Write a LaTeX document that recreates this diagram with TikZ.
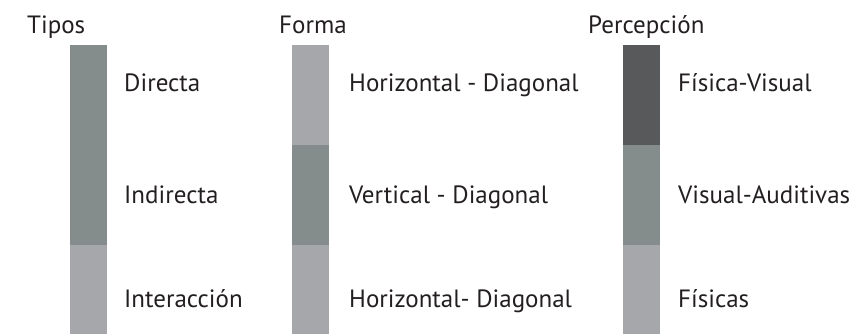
\documentclass[tikz,border=0pt]{standalone}
\usepackage{fontspec}
\setmainfont{PT Sans}
\usetikzlibrary{positioning}
\definecolor{BarDark}{RGB}{88,89,91}
\definecolor{BarMid}{RGB}{133,140,140}
\definecolor{BarLight}{RGB}{166,167,170}
\definecolor{TextGray}{RGB}{35,31,32}

\begin{document}
\begin{tikzpicture}[x=1pt, y=-1pt,
    every node/.style={font=\fontsize{25}{29}\selectfont, text=TextGray, inner sep=0pt},
    seg/.style={rectangle, anchor=north west, minimum width=37pt, minimum height=100pt},
    lbl/.style={anchor=base west}]
  \useasboundingbox (0,0) rectangle (851,334);
  % Tipos
  \node[lbl] (tipos) at (27,34) {Tipos};
  \node[seg, fill=BarMid, minimum height=200pt] (t1) at (70,45) {};
  \node[seg, fill=BarLight, minimum height=89pt] (t3) at (70,245) {};
  \node[lbl] (directa) at (124,92) {Directa};
  \node[lbl] (indirecta) at (124,203) {Indirecta};
  \node[lbl] (interaccion) at (124,307) {Interacción};
  % Forma
  \node[lbl] (forma) at (279,34) {Forma};
  \node[seg, fill=BarLight] (f1) at (292,45) {};
  \node[seg, fill=BarMid] (f2) at (292,145) {};
  \node[seg, fill=BarLight, minimum height=89pt] (f3) at (292,245) {};
  \node[lbl] (hordiag) at (349,92) {Horizontal - Diagonal};
  \node[lbl] (verdiag) at (349,203) {Vertical - Diagonal};
  \node[lbl] (hordiagb) at (349,307) {Horizontal- Diagonal};
  % Percepcion
  \node[lbl] (percepcion) at (588,34) {Percepción};
  \node[seg, fill=BarDark] (p1) at (623,45) {};
  \node[seg, fill=BarMid] (p2) at (623,145) {};
  \node[seg, fill=BarLight, minimum height=89pt] (p3) at (623,245) {};
  \node[lbl] (fisvis) at (678,92) {Física-Visual};
  \node[lbl] (visaud) at (678,203) {Visual-Auditivas};
  \node[lbl] (fisicas) at (678,307) {Físicas};
\end{tikzpicture}
\end{document}
